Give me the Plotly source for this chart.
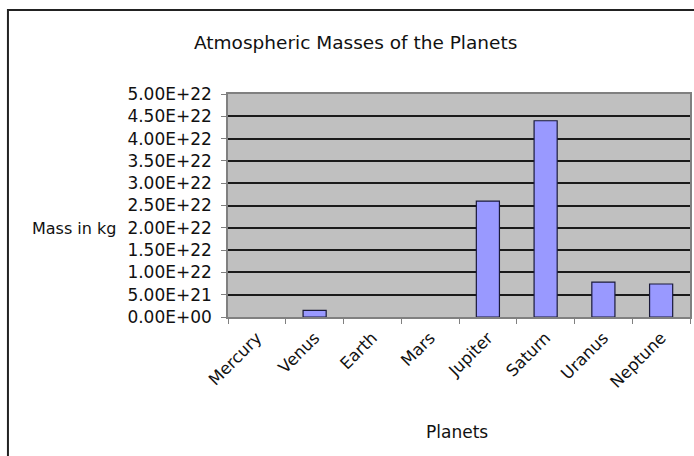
import plotly.graph_objects as go

# Atmospheric mass of each planet, in kilograms
planets = ["Mercury", "Venus", "Earth", "Mars", "Jupiter", "Saturn", "Uranus", "Neptune"]
mass_kg = [0, 1.5e21, 0, 0, 2.6e22, 4.4e22, 7.8e21, 7.4e21]

y_ticks = [i * 5e21 for i in range(11)]
y_tick_labels = ["0.00E+00", "5.00E+21", "1.00E+22", "1.50E+22", "2.00E+22", "2.50E+22",
                 "3.00E+22", "3.50E+22", "4.00E+22", "4.50E+22", "5.00E+22"]

FONT = "DejaVu Sans"
INK = "#111"

W, H = 694, 456
L, R, T, B = 228, 2, 94, 139
pw, ph = W - L - R, H - T - B


def px_x(x):
    return (x - L) / pw


def px_y(y):
    return (H - B - y) / ph


# empty bars get no outline, so zero values leave nothing on the axis
outline_w = [1.2 if v > 0 else 0 for v in mass_kg]

fig = go.Figure(
    go.Bar(
        x=planets,
        y=mass_kg,
        width=0.4,
        marker=dict(color="#9999FF", line=dict(color="#1a1a3a", width=outline_w)),
    )
)

fig.update_layout(
    width=W,
    height=H,
    margin=dict(l=L, r=R, t=T, b=B, pad=0),
    paper_bgcolor="white",
    plot_bgcolor="#C0C0C0",
    showlegend=False,
    font=dict(family=FONT, size=15, color=INK),
)

fig.update_xaxes(
    type="category",
    tickangle=-45,
    tickson="boundaries",
    ticks="outside",
    ticklen=5,
    tickcolor="#808080",
    tickfont=dict(family=FONT, size=16.5, color=INK),
    ticklabelstandoff=3,
    showgrid=False,
    showline=True,
    linecolor="#808080",
    linewidth=1.5,
    mirror=True,
)

fig.update_yaxes(
    range=[0, 5e22],
    tickmode="array",
    tickvals=y_ticks,
    ticktext=y_tick_labels,
    ticks="outside",
    ticklen=5,
    tickcolor="#808080",
    tickfont=dict(family=FONT, size=17, color=INK),
    ticklabelstandoff=6,
    showgrid=True,
    gridcolor="#1a1a1a",
    gridwidth=1.5,
    zeroline=False,
    showline=True,
    linecolor="#808080",
    linewidth=1.5,
    mirror=True,
)

# chart title, horizontal y-axis caption and x-axis caption
fig.add_annotation(
    text="Atmospheric Masses of the Planets",
    xref="paper", yref="paper", x=px_x(356), y=px_y(42),
    xanchor="center", yanchor="middle", showarrow=False,
    font=dict(family=FONT, size=18.5, color=INK),
)
fig.add_annotation(
    text="Mass in kg",
    xref="paper", yref="paper", x=px_x(118), y=px_y(228),
    xanchor="right", yanchor="middle", showarrow=False,
    font=dict(family=FONT, size=16, color=INK),
)
fig.add_annotation(
    text="Planets",
    xref="paper", yref="paper", x=px_x(458), y=px_y(432),
    xanchor="center", yanchor="middle", showarrow=False,
    font=dict(family=FONT, size=17, color=INK),
)

# outer chart frame
fig.add_shape(
    type="rect", xref="paper", yref="paper",
    x0=px_x(7), y0=px_y(H + 20), x1=px_x(W + 20), y1=px_y(10),
    line=dict(color="#222", width=2), fillcolor="rgba(0,0,0,0)", layer="below",
)

fig.write_html("out.html")
